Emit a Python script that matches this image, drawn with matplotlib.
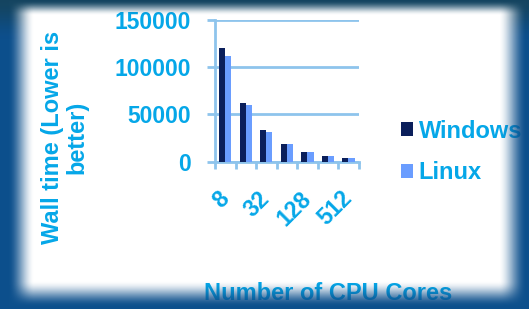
import numpy as np
import matplotlib
matplotlib.use('Agg')
import matplotlib.pyplot as plt

cores = ['8', '16', '32', '64', '128', '256', '512']
windows = [120500, 62000, 33500, 18400, 10300, 6000, 3900]
linux = [112000, 59700, 31400, 18400, 10300, 6000, 3900]
yticks = [0, 50000, 100000, 150000]

cyan = '#05a7e8'
grid_c = '#8ec4ec'
plt.rcParams['font.family'] = ['Liberation Sans', 'DejaVu Sans']
plt.rcParams['font.weight'] = 'bold'

W, H = 529, 309
fig = plt.figure(figsize=(W/100, H/100), dpi=100, facecolor='white')

ax = fig.add_axes([215/W, 1-161.7/H, 143.7/W, 141.7/H])
ax.set_facecolor('none')
x = np.arange(len(cores))
bw = 0.3
ax.bar(x - bw/2, windows, bw, color='#0b1f5b', label='Windows', zorder=3)
ax.bar(x + bw/2, linux, bw, color='#6a9dff', label='Linux', zorder=3)
ax.set_xlim(-0.5, len(cores) - 0.5)
ax.set_ylim(0, 150000)
ax.set_yticks(yticks)
ax.set_yticklabels([str(v) for v in yticks], color=cyan, fontsize=16.5, fontweight='bold')
ax.yaxis.grid(True, color=grid_c, linewidth=2)
ax.set_axisbelow(True)
for s in ['top', 'right']:
    ax.spines[s].set_visible(False)
for s in ['left', 'bottom']:
    ax.spines[s].set_color(grid_c)
    ax.spines[s].set_linewidth(2)
ax.tick_params(axis='y', colors=grid_c, width=2, length=6, pad=11.5, labelcolor=cyan)

# boundaries between groups get tick marks, labels sit on every other group
ax.set_xticks(np.arange(-0.5, len(cores)), minor=True)
ax.set_xticks(x[::2])
ax.set_xticklabels(cores[::2], rotation=45, ha='right', va='center',
                   rotation_mode='anchor', color=cyan, fontsize=16.5, fontweight='bold')
ax.tick_params(axis='x', which='major', length=0, pad=24)
ax.tick_params(axis='x', which='minor', colors=grid_c, width=2, length=5)

fig.text(65/W, 1-137/H, 'Wall time (Lower is\nbetter)', rotation=90, ha='center',
         va='center', multialignment='center', color=cyan, fontsize=17,
         fontweight='bold', linespacing=1.1)
fig.text(328/W, 1-293/H, 'Number of CPU Cores', ha='center', va='center',
         color=cyan, fontsize=17, fontweight='bold')

leg = ax.legend(loc='center left', bbox_to_anchor=(389/W, 1-152/H),
                bbox_transform=fig.transFigure, frameon=False,
                prop={'size': 17, 'weight': 'bold'},
                handlelength=0.5, handleheight=0.5, handletextpad=0.25,
                labelspacing=0.8, labelcolor=cyan, borderpad=0)

# dark slide border with soft glow
def ramp(v, a, b):
    t = np.clip((v - a) / (b - a), 0, 1)
    return t * t * (3 - 2 * t)

yy, xx = np.mgrid[0:H, 0:W]
w = ramp(xx, 8, 34) * ramp(-xx, -526, -498) * ramp(yy, 0, 15) * ramp(-yy, -306, -280)
over = np.zeros((H, W, 4))
top_mix = ramp(-yy, -40, 0)[..., None]
edge = (1 - top_mix) * np.array([0.05, 0.31, 0.55]) + top_mix * np.array([0.08, 0.27, 0.38])
over[..., :3] = edge
over[..., 3] = 1 - w
bg = fig.add_axes([0, 0, 1, 1], zorder=10)
bg.imshow(over, aspect='auto', extent=(0, W, H, 0), interpolation='bilinear')
bg.axis('off')

fig.savefig('out.png', dpi=100)
